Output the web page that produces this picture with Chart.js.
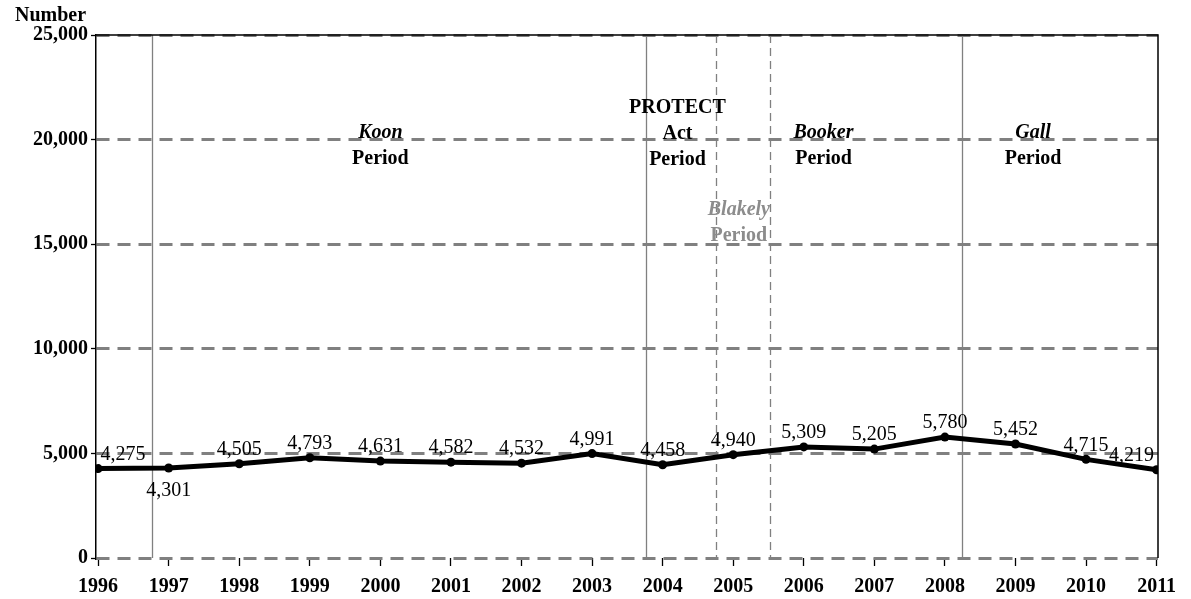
<!DOCTYPE html>
<html>
<head>
<meta charset="utf-8">
<script src="https://cdn.jsdelivr.net/npm/chart.js@4"></script>
<style>
  html, body { margin: 0; padding: 0; background: #fff; }
  #wrap { width: 1191px; height: 599px; }
</style>
</head>
<body>
<div id="wrap"><canvas id="chart"></canvas></div>
<script>
// data
const years = [1996, 1997, 1998, 1999, 2000, 2001, 2002, 2003, 2004, 2005, 2006, 2007, 2008, 2009, 2010, 2011];
const counts = [4275, 4301, 4505, 4793, 4631, 4582, 4532, 4991, 4458, 4940, 5309, 5205, 5780, 5452, 4715, 4219];
const yTicks = [0, 5000, 10000, 15000, 20000, 25000];

// period boundaries (fractional years)
const solidBreaks = [1996.76, 2003.77, 2008.24];
const dashedBreaks = [2004.76, 2005.52];

// period captions: name lines, then "Period"
const periodNames = [["Koon"], ["PROTECT", "Act"], ["Blakely"], ["Booker"], ["Gall"]];
const periodX = [2000.0, 2004.21, 2005.08, 2006.28, 2009.25];
const periodY = [20315, 21510, 16635, 20315, 20315];

const SERIF = '"Liberation Serif", "DejaVu Serif", serif';
const GRAY = "#808080";

const fmt = v => v.toLocaleString("en-US");

const periodPlugin = {
  id: "periods",
  beforeDatasetsDraw(chart) {
    const { ctx, chartArea: a, scales: { x } } = chart;
    ctx.save();
    ctx.strokeStyle = GRAY;
    ctx.lineWidth = 1.3;
    solidBreaks.forEach(v => {
      const px = Math.round(x.getPixelForValue(v)) + 0.5;
      ctx.beginPath(); ctx.moveTo(px, a.top); ctx.lineTo(px, a.bottom); ctx.stroke();
    });
    ctx.setLineDash([8, 5]);
    dashedBreaks.forEach(v => {
      const px = Math.round(x.getPixelForValue(v)) + 0.5;
      ctx.beginPath(); ctx.moveTo(px, a.top); ctx.lineTo(px, a.bottom); ctx.stroke();
    });
    ctx.restore();
  },
  afterDatasetsDraw(chart) {
    const { ctx, scales: { x, y } } = chart;
    ctx.save();
    ctx.textAlign = "center";
    ctx.textBaseline = "middle";
    ctx.font = "20px " + SERIF;
    ctx.fillStyle = "#000";
    // where to put each value label relative to its point
    const side = { 0: "right", 1: "below", 15: "left" };
    counts.forEach((v, i) => {
      const px = x.getPixelForValue(years[i]);
      const py = y.getPixelForValue(v);
      let dx = 0, dy = -14;
      if (side[i] === "right") dx = 25;
      if (side[i] === "left") dx = -25;
      if (side[i] === "below") dy = 23;
      ctx.fillText(fmt(v), px + dx, py + dy);
    });

    periodNames.forEach((lines, i) => {
      const gray = lines[0] === "Blakely";
      const italicName = lines.length === 1;
      const px = x.getPixelForValue(periodX[i]);
      let py = y.getPixelForValue(periodY[i]);
      ctx.fillStyle = gray ? "#8c8c8c" : "#000";
      lines.forEach(t => {
        ctx.font = (italicName ? "italic " : "") + "bold 20px " + SERIF;
        ctx.fillText(t, px, py);
        py += 26;
      });
      ctx.font = "bold 20px " + SERIF;
      ctx.fillText("Period", px, py);
    });
    ctx.restore();
  },
  afterDraw(chart) {
    const { ctx, chartArea: a } = chart;
    ctx.save();
    ctx.strokeStyle = "#000";
    ctx.lineWidth = 1.5;
    ctx.beginPath();
    ctx.moveTo(a.left, a.top);
    ctx.lineTo(a.right, a.top);
    ctx.lineTo(a.right, a.bottom);
    ctx.stroke();
    ctx.fillStyle = "#000";
    ctx.font = "bold 20px " + SERIF;
    ctx.textAlign = "left";
    ctx.textBaseline = "alphabetic";
    ctx.fillText("Number", 15, 21);
    ctx.restore();
  }
};

new Chart(document.getElementById("chart"), {
  type: "line",
  data: {
    datasets: [{
      data: years.map((yr, i) => ({ x: yr, y: counts[i] })),
      borderColor: "#000",
      backgroundColor: "#000",
      borderWidth: 5,
      pointRadius: 4.5,
      pointBackgroundColor: "#000",
      pointBorderWidth: 0,
      tension: 0
    }]
  },
  options: {
    responsive: true,
    maintainAspectRatio: false,
    animation: false,
    layout: { padding: { top: 35, right: 33, left: 0, bottom: 0 } },
    plugins: { legend: { display: false }, tooltip: { enabled: false } },
    scales: {
      x: {
        type: "linear",
        min: 1995.97,
        max: 2011.02,
        afterBuildTicks: s => { s.ticks = years.map(v => ({ value: v })); },
        afterFit: s => { s.height = 41; },
        border: { display: false },
        grid: { drawOnChartArea: false, drawTicks: true, tickLength: 8, tickColor: "#000", tickWidth: 1.3 },
        ticks: {
          autoSkip: false,
          maxRotation: 0,
          padding: 9,
          color: "#000",
          font: { family: SERIF, size: 20, weight: "bold" },
          callback: v => String(v)
        }
      },
      y: {
        min: 0,
        max: 25000,
        afterBuildTicks: s => { s.ticks = yTicks.map(v => ({ value: v })); },
        afterFit: s => { s.width = 96; },
        border: { display: true, color: "#000", width: 1.5, dash: [13, 8] },
        grid: { color: GRAY, lineWidth: 3, tickLength: 5, tickColor: "#000", tickWidth: 1.3 },
        ticks: {
          padding: 3,
          color: "#000",
          font: { family: SERIF, size: 20, weight: "bold" },
          callback: v => fmt(v)
        }
      }
    }
  },
  plugins: [periodPlugin]
});
</script>
</body>
</html>
